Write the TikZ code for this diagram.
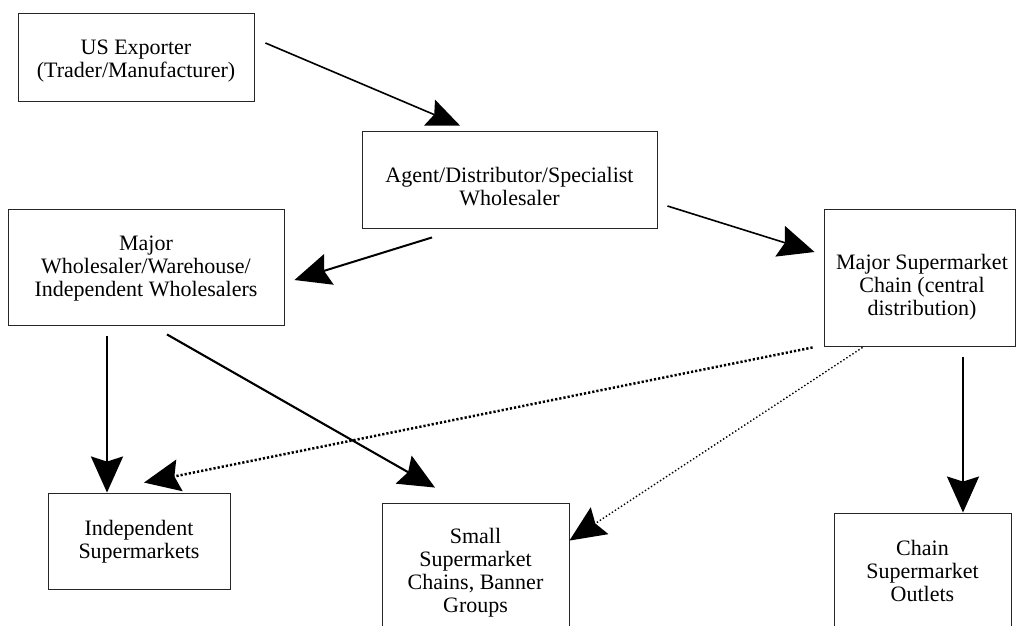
\documentclass[tikz,border=0pt]{standalone}
\usepackage{fontspec}
\setmainfont{Liberation Serif}
\usetikzlibrary{arrows.meta}
\tikzset{
  box/.style={draw=black!85, line width=0.9pt, inner sep=0pt},
  txt/.style={align=center, inner sep=0pt, font=\fontsize{22}{23}\selectfont},
  arr/.style={-{Stealth[length=36pt,width=32pt,inset=5pt]}, line width=1.8pt},
  dotthick/.style={arr, line width=2.5pt, dash pattern=on 2.2pt off 2pt},
  dotthin/.style={arr, line width=1.4pt, dash pattern=on 1.4pt off 2.2pt},
}
\begin{document}
\begin{tikzpicture}[x=1pt,y=-1pt]
\useasboundingbox (0,0) rectangle (1016,625);
\clip (0,0) rectangle (1016,625);
\fill[white] (0,0) rectangle (1016,625);
\node[box, minimum width=236pt, minimum height=88pt] (us) at (136,57) {};
\node[txt] (ust) at (136,61) {US Exporter\\(Trader/Manufacturer)};
\node[box, minimum width=295pt, minimum height=97pt] (agent) at (509.5,179.5) {};
\node[txt] (agentt) at (509.5,187) {Agent/Distributor/Specialist\\Wholesaler};
\node[box, minimum width=276pt, minimum height=116pt] (whole) at (146,267) {};
\node[txt] (wholet) at (146,269) {Major\\Wholesaler/Warehouse/\\Independent Wholesalers};
\node[box, minimum width=191pt, minimum height=137pt] (chain) at (919.5,277.5) {};
\node[txt] (chaint) at (922,287.5) {Major Supermarket\\Chain (central\\distribution)};
\node[box, minimum width=182pt, minimum height=96pt] (indep) at (139,541) {};
\node[txt] (indept) at (139,542) {Independent\\Supermarkets};
\node[box, minimum width=187pt, minimum height=140pt] (small) at (475.5,573) {};
\node[txt] (smallt) at (475.5,573) {Small\\Supermarket\\Chains, Banner\\Groups};
\node[box, minimum width=177pt, minimum height=120pt] (outlets) at (922.5,573) {};
\node[txt] (outletst) at (922.5,571) {Chain\\Supermarket\\Outlets};

\draw[arr, line width=1.6pt, -{Stealth[length=33pt,width=28pt,inset=5pt]}] ([shift={(11,-14)}]us.east) -- ([shift={(-49.5,-5)}]agent.north);
\draw[arr, line width=2pt] ([shift={(-77.5,9)}]agent.south) -- ([shift={(10,13)}]whole.east);
\draw[arr, line width=1.6pt] ([shift={(10,26.5)}]agent.east) -- ([shift={(-9,-25.5)}]chain.west);
\draw[arr, line width=2.6pt] ([shift={(-39,11)}]whole.south) -- ([shift={(-32,0)}]indep.north);
\draw[arr, line width=2.1pt] ([shift={(21,9)}]whole.south) -- ([shift={(-40.5,-15)}]small.north);
\draw[dotthick] ([shift={(-11,1)}]chain.south west) -- ([shift={(5,-10)}]indep.north);
\draw[dotthin] ([shift={(39,1)}]chain.south west) -- ([shift={(0,38)}]small.north east);
\draw[arr, line width=2pt] ([shift={(43.5,11)}]chain.south) -- ([shift={(40.5,0)}]outlets.north);
\end{tikzpicture}
\end{document}
